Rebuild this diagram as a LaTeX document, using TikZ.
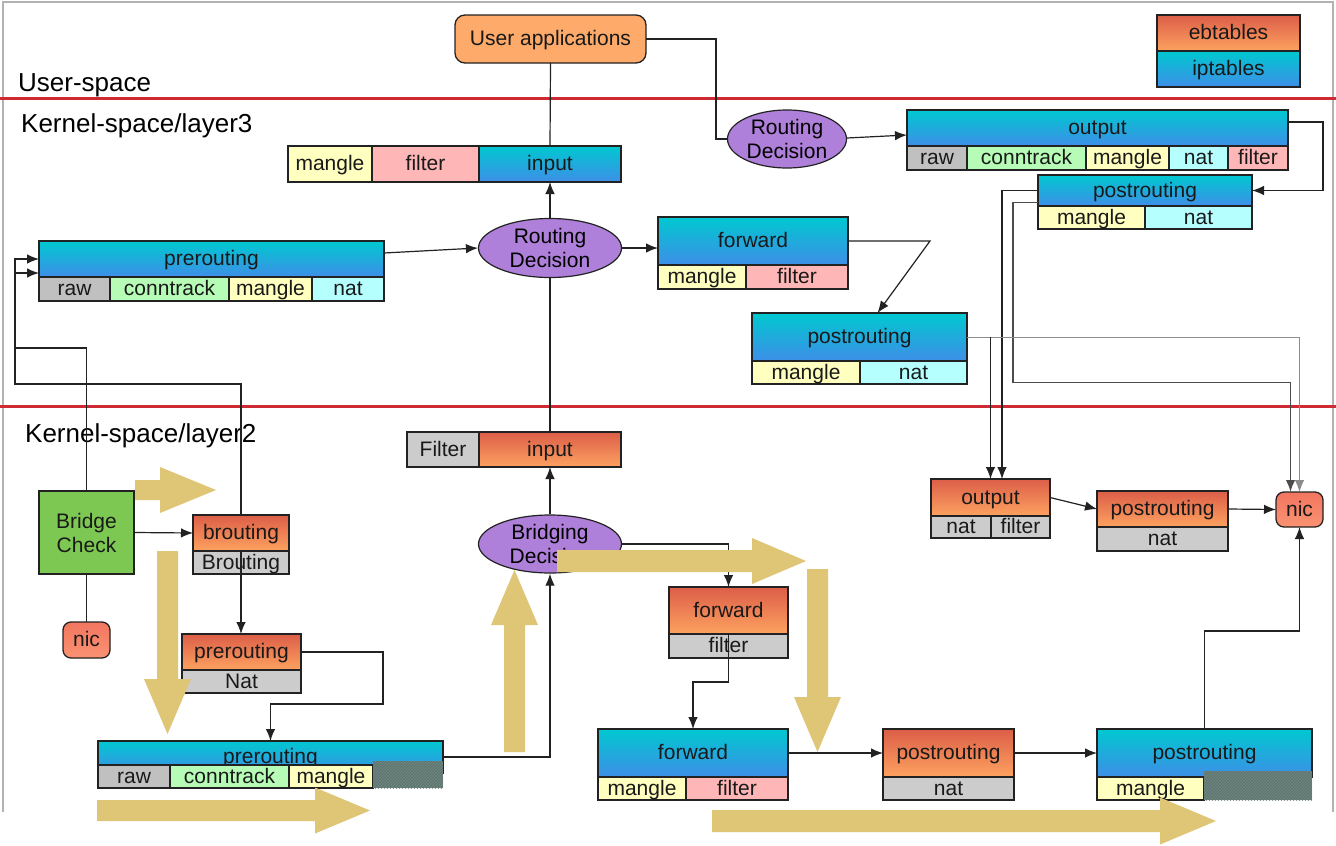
\documentclass[tikz,border=0pt]{standalone}
\usepackage{fontspec}
\setmainfont{Liberation Sans}
\usetikzlibrary{shapes.geometric,arrows.meta,patterns,calc}
\definecolor{iptT}{RGB}{0,200,208}
\definecolor{iptB}{RGB}{62,142,232}
\definecolor{ebtT}{RGB}{220,94,72}
\definecolor{ebtB}{RGB}{253,162,96}
\definecolor{cgray}{RGB}{204,204,204}
\definecolor{craw}{RGB}{192,192,192}
\definecolor{cgreen}{RGB}{182,252,182}
\definecolor{cyel}{RGB}{255,255,192}
\definecolor{ccyan}{RGB}{182,255,255}
\definecolor{cpink}{RGB}{255,182,182}
\definecolor{uaorange}{RGB}{253,170,106}
\definecolor{bcgreen}{RGB}{125,200,82}
\definecolor{nicT}{RGB}{242,118,96}
\definecolor{nicB}{RGB}{250,146,114}
\definecolor{rdpurple}{RGB}{175,128,218}
\definecolor{tanc}{RGB}{223,198,118}
\definecolor{redl}{RGB}{205,42,52}
\definecolor{hatchc}{RGB}{96,118,112}
\definecolor{hatchl}{RGB}{116,138,132}
\definecolor{edge}{RGB}{34,34,34}
\newcommand\boxfnt{\fontsize{21}{24}\selectfont}
\newcommand\labfnt{\fontsize{26}{30}\selectfont}
\newcommand\cellbox[7]{\node[#2, txt, minimum width={#5-#3}, minimum height={#6-#4}] (#1) at (#3,#4) {#7};}
\newcommand\tanR[6]{\fill[tanc] (#1,{#4-#5}) -- (#2,{#4-#5}) -- (#2,{#4-#6}) -- (#3,#4) -- (#2,{#4+#6}) -- (#2,{#4+#5}) -- (#1,{#4+#5}) -- cycle;}
\newcommand\tanV[6]{\fill[tanc] ({#1-#5},#2) -- ({#1-#5},#3) -- ({#1-#6},#3) -- (#1,#4) -- ({#1+#6},#3) -- ({#1+#5},#3) -- ({#1+#5},#2) -- cycle;}
\tikzset{
 cell/.style={draw=edge, line width=1.3pt, inner sep=0pt, outer sep=0pt, anchor=north west, font=\boxfnt, text=black!90},
 txt/.style={text height=15pt, text depth=2pt},
 ipt/.style={cell, top color=iptT, bottom color=iptB},
 ebt/.style={cell, top color=ebtT, bottom color=ebtB},
 gc/.style={cell, fill=cgray},
 rawc/.style={cell, fill=craw},
 ctc/.style={cell, fill=cgreen},
 mgc/.style={cell, fill=cyel},
 natc/.style={cell, fill=ccyan},
 fic/.style={cell, fill=cpink},
 nicst/.style={cell, rounded corners=8pt, top color=nicT, bottom color=nicB},
 rdec/.style={ellipse, draw=edge, line width=1.2pt, fill=rdpurple, inner sep=0pt, font=\boxfnt, align=center},
 conn/.style={draw=edge, line width=1.2pt},
 tip/.style={-{Latex[length=12pt,width=9.5pt]}},
 arr/.style={conn, tip},
 lab/.style={font=\labfnt, inner sep=0pt, anchor=base west},
}
\begin{document}
\begin{tikzpicture}[x=1pt,y=-1pt]
\fill[white] (0,0) rectangle (1336,846);
\useasboundingbox (0,0) rectangle (1336,846);
% frame
\draw[black!30, line width=1.5pt] (3,812) -- (3,2) -- (1333,2) -- (1333,812);
% separators
\draw[redl, line width=3pt] (0,98) -- (1336,98);
\draw[redl, line width=3pt] (0,406) -- (1336,406);
% labels
\node[lab] (lus) at (18,91) {User-space};
\node[lab] (lk3) at (21,132) {Kernel-space/layer3};
\node[lab] (lk2) at (25,442) {Kernel-space/layer2};
% user apps
\node[cell, txt, rounded corners=10pt, fill=uaorange, minimum width=191pt, minimum height=48pt] (ua) at (455,15) {User applications};
% legend
\cellbox{leb}{ebt}{1157}{15}{1300}{51}{ebtables}
\cellbox{lip}{ipt}{1157}{51}{1300}{87}{iptables}
% ---- layer 3 ----
\node[rdec, minimum width=119pt, minimum height=58pt] (rd2) at (787,139) {Routing\\Decision};
\cellbox{out3}{ipt}{907}{110}{1288}{146}{output}
\cellbox{o3a}{rawc}{907}{146}{967}{170}{raw}
\cellbox{o3b}{ctc}{967}{146}{1086}{170}{conntrack}
\cellbox{o3c}{mgc}{1086}{146}{1169}{170}{mangle}
\cellbox{o3d}{natc}{1169}{146}{1228}{170}{nat}
\cellbox{o3e}{fic}{1228}{146}{1288}{170}{filter}
\cellbox{pu3}{ipt}{1038}{175}{1252}{206}{postrouting}
\cellbox{pu3a}{mgc}{1038}{206}{1145}{229}{mangle}
\cellbox{pu3b}{natc}{1145}{206}{1252}{229}{nat}
\cellbox{i3a}{mgc}{288}{146}{372}{182}{mangle}
\cellbox{i3b}{fic}{372}{146}{479}{182}{filter}
\cellbox{in3}{ipt}{479}{146}{621}{182}{input}
\node[rdec, minimum width=143pt, minimum height=59pt] (rd1) at (550,248) {Routing\\Decision};
\cellbox{fwd3}{ipt}{658}{217}{848}{265}{forward}
\cellbox{f3a}{mgc}{658}{265}{746}{289}{mangle}
\cellbox{f3b}{fic}{746}{265}{848}{289}{filter}
\cellbox{pl3}{ipt}{752}{313}{967}{361}{postrouting}
\cellbox{pl3a}{mgc}{752}{361}{860}{384}{mangle}
\cellbox{pl3b}{natc}{860}{361}{967}{384}{nat}
\cellbox{pre3}{ipt}{39}{241}{384}{277}{prerouting}
\cellbox{p3a}{rawc}{39}{277}{110}{301}{raw}
\cellbox{p3b}{ctc}{110}{277}{229}{301}{conntrack}
\cellbox{p3c}{mgc}{229}{277}{312}{301}{mangle}
\cellbox{p3d}{natc}{312}{277}{384}{301}{nat}
% ---- layer 2 ----
\cellbox{fi2}{gc}{407}{432}{479}{467}{Filter}
\cellbox{in2}{ebt}{479}{432}{621}{467}{input}
\node[rdec, minimum width=143pt, minimum height=58pt] (bd) at (550,544) {Bridging\\Decision};
\node[cell, fill=bcgreen, align=center, minimum width=95pt, minimum height=83pt] (bc) at (39,491) {Bridge\\Check};
\cellbox{nic1}{nicst}{63}{622}{110}{658}{nic}
\cellbox{br}{ebt}{193}{515}{289}{551}{brouting}
\cellbox{brg}{gc}{193}{551}{289}{574}{Brouting}
\cellbox{pnH}{ebt}{182}{634}{301}{670}{prerouting}
\cellbox{pnG}{gc}{182}{670}{301}{693}{Nat}
\cellbox{pre2}{ipt}{98}{741}{443}{773}{prerouting}
\cellbox{p2a}{rawc}{98}{765}{170}{788}{raw}
\cellbox{p2b}{ctc}{170}{765}{289}{788}{conntrack}
\cellbox{p2c}{mgc}{289}{765}{373}{788}{mangle}
\fill[hatchc] (373,761) rectangle (443,788);
\fill[pattern=north east lines, pattern color=hatchl] (373,761) rectangle (443,788);
\cellbox{fwd2}{ebt}{669}{587}{788}{634}{forward}
\cellbox{fwd2g}{gc}{669}{634}{788}{658}{filter}
\cellbox{fwd1}{ipt}{598}{729}{788}{777}{forward}
\cellbox{f1a}{mgc}{598}{777}{686}{800}{mangle}
\cellbox{f1b}{fic}{686}{777}{788}{800}{filter}
\cellbox{pn2}{ebt}{883}{729}{1014}{777}{postrouting}
\cellbox{pn2g}{gc}{883}{777}{1014}{800}{nat}
\cellbox{pr2}{ipt}{1097}{729}{1312}{777}{postrouting}
\cellbox{pr2a}{mgc}{1097}{777}{1204}{800}{mangle}
\fill[hatchc] (1204,771) rectangle (1312,800);
\fill[pattern=north east lines, pattern color=hatchl] (1204,771) rectangle (1312,800);
\cellbox{out2}{ebt}{931}{479}{1050}{516}{output}
\cellbox{o2a}{gc}{931}{516}{991}{538}{nat}
\cellbox{o2b}{gc}{991}{516}{1050}{538}{filter}
\cellbox{pm2}{ebt}{1097}{491}{1228}{527}{postrouting}
\cellbox{pm2g}{gc}{1097}{527}{1228}{551}{nat}
\cellbox{nic2}{nicst}{1276}{492}{1323}{527}{nic}
% ---- connectors ----
\draw[conn] (ua.south) -- (in3.north);
\draw[conn] (ua.east) -- ++(70,0) |- (rd2.west);
\draw[arr] ([yshift=1pt]rd2.east) -- ([yshift=-7pt]out3.west);
\draw[arr] ([yshift=6pt]out3.east) -- ++(35,0) |- (pu3.east);
\draw[arr] (pu3.west) -| ([xshift=11.5pt]out2.north);
\draw[conn, draw=black!70, line width=1.8pt, tip] ([yshift=-12pt]pu3.west) -- ++(-25,0) -- ++(0,180) -| ([xshift=-9pt]nic2.north);
\draw[draw=black!45, line width=1pt, tip] (pl3.east) -| (nic2.north);
\draw[arr] (pl3.east -| out2.north) -- (out2.north);
\draw[arr] (fwd3.east) -- ++(82,0) -- ([xshift=18pt]pl3.north);
\draw[arr] (rd1.east) -- (rd1.east -| fwd3.west);
\draw[arr] (rd1.north) -- (in3.south);
\draw[arr] ([yshift=6pt]pre3.east) -- (rd1.west);
\draw[arr] (bc.north) -- ++(0,-143) -- ++(-72,0) |- ([yshift=-14pt]pre3.west);
\draw[arr] (br.north) -- ++(0,-131) -- ++(-226,0) |- (pre3.west);
\draw[arr] (bc.east) -- (br.west);
\draw[arr] (brg.north) -- (brg.north |- pnH.north);
\draw[conn] (bc.south) -- (nic1.north);
\draw[arr] (pnH.east) -- ++(82,0) -- ++(0,52) -| (pre2.north);
\draw[arr] (pre2.east) -| (bd.south);
\draw[arr] (bd.north) -- (in2.south);
\draw[conn] (in2.north) -- (rd1.south);
\draw[arr] (bd.east) -| (fwd2.north);
\draw[arr] (fwd2g.north) -- ++(0,48) -| (fwd1.north);
\draw[arr] (fwd1.east) -- (pn2.west);
\draw[arr] (pn2.east) -- (pr2.west);
\draw[arr] (pr2.north) -- ++(0,-98) -| (nic2.south);
\draw[arr] (out2.east) -- (pm2.west);
\draw[arr] (pm2.east) -- (nic2.west);
% ---- big tan flow arrows ----
\tanR{135}{160}{216}{490}{10}{23}
\tanV{167.5}{551}{679}{734}{10.5}{23.5}
\tanR{97}{315}{370}{810.5}{10.5}{23}
\tanV{514.5}{752}{625}{570}{10.5}{23.5}
\tanR{557}{752}{806}{561}{11}{23}
\tanV{817.5}{569}{697}{752}{10.5}{23.5}
\tanR{712}{1160}{1216}{821}{11}{23.5}
\end{tikzpicture}
\end{document}
